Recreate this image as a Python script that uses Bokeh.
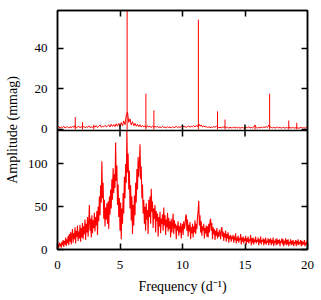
import numpy as np
from bokeh.plotting import figure
from bokeh.models import Range1d, LinearAxis, FixedTicker, Span
from bokeh.embed import file_html
from bokeh.resources import INLINE

# ---------------- data ----------------
# lower panel: amplitude spectrum sampled every 0.05 d^-1 from 0 to 20
bottom_step = 0.05
bottom_amp = [
    3, 6, 2, 8, 4, 7, 2, 9, 5, 11, 3, 10, 6, 14, 4, 12, 7, 16, 5, 18,
    9, 20, 6, 17, 24, 8, 19, 12, 26, 7, 22, 15, 28, 10, 21, 13, 29, 9, 25, 14,
    31, 12, 27, 18, 35, 11, 30, 20, 38, 15, 33, 52, 22, 36, 14, 40, 19, 34, 25, 43,
    21, 38, 28, 45, 17, 50, 33, 62, 40, 75, 55, 103, 60, 78, 36, 58, 27, 49, 35, 54,
    30, 56, 24, 62, 41, 70, 48, 82, 58, 95, 66, 88, 72, 125, 80, 98, 52, 76, 38, 60,
    22, 55, 12, 48, 30, 66, 42, 85, 60, 100, 78, 139, 90, 112, 70, 92, 48, 75, 34, 62,
    18, 52, 28, 63, 40, 78, 55, 94, 70, 108, 85, 100, 123, 82, 97, 60, 76, 42, 58, 30,
    50, 22, 54, 35, 46, 18, 58, 38, 62, 30, 71, 44, 56, 25, 48, 36, 52, 20, 45, 33,
    42, 15, 38, 27, 44, 19, 36, 30, 41, 22, 49, 28, 40, 17, 35, 26, 43, 21, 37, 24,
    33, 14, 36, 20, 29, 42, 18, 34, 25, 30, 12, 28, 22, 33, 16, 27, 20, 31, 13, 26,
    30, 17, 33, 24, 28, 38, 41, 22, 35, 15, 29, 21, 32, 12, 26, 19, 30, 14, 27, 20,
    34, 18, 30, 24, 38, 45, 57, 28, 40, 20, 33, 16, 27, 22, 30, 13, 25, 19, 28, 15,
    27, 14, 30, 20, 33, 36, 22, 31, 12, 26, 18, 24, 11, 22, 16, 25, 13, 20, 15, 23,
    19, 12, 24, 26, 15, 21, 10, 19, 14, 22, 9, 18, 13, 20, 8, 16, 12, 17, 9, 15,
    12, 17, 8, 15, 11, 19, 7, 14, 10, 16, 8, 13, 11, 18, 6, 14, 9, 15, 7, 13,
    10, 16, 6, 13, 9, 15, 7, 12, 10, 17, 5, 13, 8, 14, 6, 12, 9, 15, 7, 11,
    9, 14, 5, 12, 8, 15, 6, 11, 9, 13, 5, 12, 7, 14, 6, 10, 8, 13, 5, 12,
    8, 13, 5, 11, 7, 14, 4, 10, 8, 12, 5, 13, 6, 11, 7, 12, 4, 10, 8, 13,
    6, 12, 4, 10, 7, 13, 5, 11, 6, 12, 4, 9, 7, 12, 5, 10, 6, 11, 4, 9,
    7, 11, 4, 10, 6, 12, 5, 9, 7, 11, 4, 10, 5, 9, 6, 11, 4, 8, 6, 10, 7,
]

# upper panel: residual noise floor sampled every 0.1 d^-1 from 0 to 20
top_step = 0.1
top_noise = [
    0.8, 1.5, 0.6, 1.2, 0.9, 1.6, 0.7, 1.1, 1.4, 0.8,
    1.3, 0.9, 1.7, 1.0, 2.0, 0.8, 1.2, 1.5, 0.9, 1.3,
    1.1, 1.6, 0.8, 1.4, 1.0, 1.8, 0.9, 1.3, 1.1, 1.7,
    1.2, 1.9, 1.0, 1.5, 2.2, 1.1, 1.6, 1.3, 2.0, 1.4,
    1.7, 2.3, 1.2, 2.6, 1.5, 2.4, 1.4, 2.8, 1.6, 3.0,
    1.5, 3.4, 1.8, 4.2, 2.4, 7.0, 8.5, 3.5, 5.2, 2.2,
    3.8, 1.8, 3.0, 1.6, 2.6, 1.4, 2.3, 1.2, 2.0, 1.3,
    1.8, 1.0, 1.9, 1.2, 1.6, 0.9, 1.7, 1.1, 1.5, 1.2,
    1.4, 1.0, 1.3, 0.9, 1.5, 1.1, 1.2, 0.8, 1.3, 1.0,
    1.2, 0.8, 1.4, 1.0, 1.1, 1.6, 0.9, 1.3, 1.0, 1.5,
    1.9, 1.2, 1.5, 1.0, 1.4, 1.7, 1.1, 1.6, 1.3, 1.9,
    1.2, 2.0, 1.4, 2.8, 1.6, 2.2, 1.2, 1.7, 1.3, 1.4,
    1.0, 1.3, 0.9, 1.2, 1.0, 1.4, 1.1, 1.6, 1.2, 0.9,
    1.1, 0.8, 1.2, 1.0, 1.4, 0.9, 1.1, 0.7, 1.0, 0.8,
    0.9, 1.2, 0.7, 1.0, 0.8, 1.1, 0.6, 0.9, 1.0, 0.7,
    0.8, 1.1, 0.9, 1.3, 0.7, 1.0, 0.8, 1.2, 2.0, 0.9,
    0.7, 1.0, 0.8, 1.1, 0.9, 1.2, 1.0, 1.4, 1.0, 2.2,
    1.3, 1.0, 0.8, 1.1, 0.7, 0.9, 1.2, 0.8, 1.0, 0.7,
    0.9, 1.1, 0.6, 1.0, 0.8, 1.2, 0.9, 0.7, 1.0, 0.8,
    0.7, 1.0, 0.9, 0.6, 0.8, 1.1, 0.7, 0.9, 0.6, 1.0, 0.8,
]

# upper panel: isolated frequency peaks
top_peak_freq = [1.42, 2.00, 2.90, 5.57, 7.07, 7.71, 10.00, 11.27, 12.80, 13.40, 15.80, 16.97, 18.50, 19.14]
top_peak_amp = [6.1, 3.6, 2.3, 62.0, 17.6, 9.4, 2.2, 54.0, 8.9, 4.9, 2.3, 17.6, 4.4, 3.3]

x_ticks = [0, 5, 10, 15, 20]
inner_x_ticks = [5, 10, 15]
top_y_ticks = [0, 20, 40]
bottom_y_ticks = [0, 50, 100]

# ---------------- layout of the two stacked panels ----------------
TOP_PX, BOT_PX = 120, 119
FRAME_H = TOP_PX + BOT_PX
BOT_MAX = 139.0
TOP_MIN, TOP_MAX = -0.5, 58.5
prim_end = BOT_MAX * FRAME_H / BOT_PX
top_start = TOP_MAX - (TOP_MAX - TOP_MIN) * FRAME_H / TOP_PX


def top_to_primary(v):
    return (v - top_start) / (TOP_MAX - top_start) * prim_end


FONT = "Liberation Serif, Times New Roman, serif"
RED = "#ff0000"

p = figure(
    frame_width=250, frame_height=FRAME_H,
    x_range=Range1d(0, 20), y_range=Range1d(0, prim_end),
    x_axis_type=None, y_axis_type=None,
    output_backend="svg", toolbar_location=None,
    min_border_left=57, min_border_right=10, min_border_top=10, min_border_bottom=10,
)
p.extra_y_ranges = {"top": Range1d(top_start, TOP_MAX)}
p.grid.visible = False
p.outline_line_color = "black"
p.outline_line_width = 1.5
p.background_fill_color = "white"
p.border_fill_color = "white"

bottom_freq = np.arange(len(bottom_amp)) * bottom_step
top_freq = np.arange(len(top_noise)) * top_step

p.line(bottom_freq, bottom_amp, line_color=RED, line_width=1.1)
p.line(top_freq, top_noise, line_color=RED, line_width=1, y_range_name="top")
p.segment(x0=top_peak_freq, y0=[0] * len(top_peak_freq), x1=top_peak_freq, y1=top_peak_amp,
          line_color=RED, line_width=1, y_range_name="top")

# divider between the panels with its ticks
p.add_layout(Span(location=BOT_MAX, dimension="width", line_color="black", line_width=1.5))
p.scatter(x=inner_x_ticks, y=[BOT_MAX] * len(inner_x_ticks), marker="dash", angle=np.pi / 2,
          size=12, line_color="black", line_width=1.5)

left_ticks = list(bottom_y_ticks) + [top_to_primary(v) for v in top_y_ticks]
left_labels = {float(t): str(t) for t in bottom_y_ticks}
left_labels.update({top_to_primary(v): str(v) for v in top_y_ticks})


def style(ax):
    ax.axis_line_color = "black"
    ax.axis_line_width = 1.5
    ax.major_tick_line_color = "black"
    ax.major_tick_line_width = 1.5
    ax.major_tick_in = 6
    ax.major_tick_out = 0
    ax.minor_tick_line_color = None
    ax.major_label_text_font = FONT
    ax.major_label_text_font_size = "13px"
    ax.major_label_text_color = "black"
    ax.axis_label_text_font = FONT
    ax.axis_label_text_font_size = "14px"
    ax.axis_label_text_font_style = "normal"
    ax.axis_label_text_color = "black"


def hide_labels(ax):
    ax.major_label_text_color = None
    ax.major_label_text_font_size = "1px"
    ax.major_label_standoff = 0


left = LinearAxis(ticker=FixedTicker(ticks=left_ticks), major_label_overrides=left_labels,
                  axis_label="Amplitude (mmag)")
style(left)
left.major_label_standoff = 10
left.axis_label_standoff = 5
p.add_layout(left, "left")

right = LinearAxis(ticker=FixedTicker(ticks=left_ticks))
style(right)
hide_labels(right)
p.add_layout(right, "right")

below = LinearAxis(ticker=FixedTicker(ticks=x_ticks), axis_label="Frequency (d\u207b\u00b9)")
style(below)
below.major_label_standoff = 11
below.axis_label_standoff = 7
p.add_layout(below, "below")

above = LinearAxis(ticker=FixedTicker(ticks=inner_x_ticks))
style(above)
hide_labels(above)
p.add_layout(above, "above")

open("out.html", "w").write(file_html(p, INLINE))
